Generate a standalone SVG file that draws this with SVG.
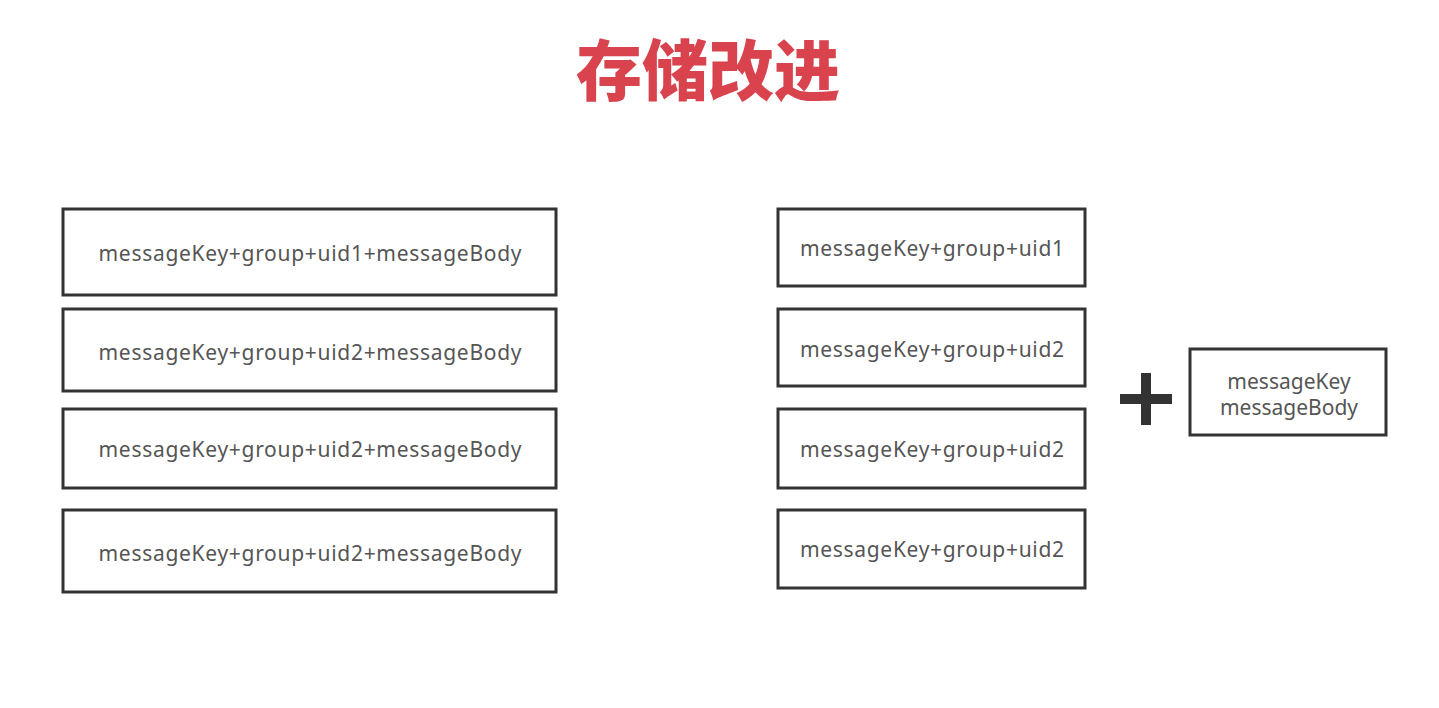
<svg xmlns="http://www.w3.org/2000/svg" width="1439" height="708" viewBox="0 0 1439 708">
<style>
.box{fill:#fff;stroke:#333;stroke-width:3}
.t{font-family:"Noto Sans","Liberation Sans",sans-serif;font-size:21px;fill:#555;text-anchor:middle;dominant-baseline:central}
.title{font-family:"Noto Sans CJK SC",sans-serif;font-weight:900;font-size:66px;fill:#d9434e;text-anchor:middle}
</style>
<rect width="1439" height="708" fill="#fff"/>
<text class="title" x="708" y="95">存储改进</text>
<g id="L1"><rect class="box" x="63" y="209" width="493" height="86"/><text class="t" x="310" y="253" textLength="423" lengthAdjust="spacing">messageKey+group+uid1+messageBody</text></g>
<g id="L2"><rect class="box" x="63" y="309" width="493" height="82"/><text class="t" x="310" y="352" textLength="423" lengthAdjust="spacing">messageKey+group+uid2+messageBody</text></g>
<g id="L3"><rect class="box" x="63" y="409" width="493" height="79"/><text class="t" x="310" y="449" textLength="423" lengthAdjust="spacing">messageKey+group+uid2+messageBody</text></g>
<g id="L4"><rect class="box" x="63" y="510" width="493" height="82"/><text class="t" x="310" y="553" textLength="423" lengthAdjust="spacing">messageKey+group+uid2+messageBody</text></g>
<g id="R1"><rect class="box" x="778" y="209" width="307" height="77"/><text class="t" x="932" y="248" textLength="264" lengthAdjust="spacing">messageKey+group+uid1</text></g>
<g id="R2"><rect class="box" x="778" y="309" width="307" height="77"/><text class="t" x="932" y="349" textLength="264" lengthAdjust="spacing">messageKey+group+uid2</text></g>
<g id="R3"><rect class="box" x="778" y="409" width="307" height="79"/><text class="t" x="932" y="449" textLength="264" lengthAdjust="spacing">messageKey+group+uid2</text></g>
<g id="R4"><rect class="box" x="778" y="510" width="307" height="78"/><text class="t" x="932" y="549" textLength="264" lengthAdjust="spacing">messageKey+group+uid2</text></g>
<g id="plus" fill="#333"><rect x="1120" y="394" width="52" height="10"/><rect x="1141" y="373" width="10" height="52"/></g>
<g id="KB"><rect class="box" x="1190" y="349" width="196" height="86"/><text class="t" x="1289" y="381">messageKey</text><text class="t" x="1289" y="407">messageBody</text></g>
<g id="connectors"/>
</svg>
